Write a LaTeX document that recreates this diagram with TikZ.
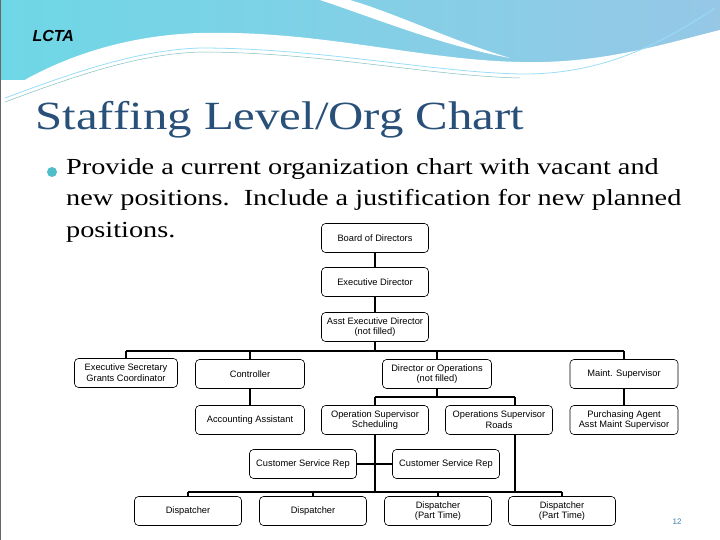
\documentclass[tikz,border=0pt]{standalone}
\usepackage{fontspec}
\setmainfont{Liberation Serif}
\setsansfont{Liberation Sans}
\definecolor{hdrA}{RGB}{110,215,230}
\definecolor{hdrB}{RGB}{150,200,230}
\definecolor{titlec}{RGB}{40,80,120}
\definecolor{bullc}{RGB}{80,190,200}
\definecolor{pgc}{RGB}{60,130,170}
\begin{document}
\begin{tikzpicture}[x=1pt,y=-1pt,
  box/.style={draw,semithick,rounded corners=4pt,minimum width=107pt,minimum height=29pt,align=center,font=\sffamily\fontsize{9.3}{10.8}\selectfont,inner sep=1pt,fill=white},
  link/.style={line width=1.8pt}]
\useasboundingbox (0,0) rectangle (720,540);
\fill[white] (0,0) rectangle (720,540);
% header
\shade[left color=hdrA,right color=hdrB] (0,0) rectangle (720,80);
\fill[white] (0,100) -- (0,95) .. controls (60,55) and (130,35) .. (200,33) .. controls (320,30) and (420,60) .. (520,62) .. controls (600,64) and (660,45) .. (720,30) -- (720,100) -- cycle;
\fill[white] (320,0) .. controls (380,20) and (440,45) .. (510,58) .. controls (450,40) and (400,15) .. (350,0) -- cycle;
\draw[white!60!cyan,line width=0.8pt] (5,98) .. controls (80,70) and (140,50) .. (200,48) .. controls (320,48) and (430,72) .. (520,74) .. controls (600,75) and (660,45) .. (715,8);
\draw[white!50!teal,line width=0.5pt] (5,102) .. controls (80,74) and (140,54) .. (200,52) .. controls (320,52) and (430,76) .. (520,78);
\draw[gray!80!black,line width=1pt] (0,0) rectangle (720,540);
\node[font=\sffamily\bfseries\itshape\fontsize{16}{17}\selectfont,anchor=west] (lcta) at (29,36) {LCTA};
\node[font=\fontsize{40}{44}\selectfont,text=titlec,anchor=west] (title) at (32,120) {\scalebox{1.22}[1]{Staffing Level/Org Chart}};
\fill[bullc] (52,172) circle (5pt);
\node[font=\fontsize{23}{31.5}\selectfont,anchor=north west,align=left,inner sep=0pt] (body) at (66,158) {\scalebox{1.23}[1]{Provide a current organization chart with vacant and}\\\scalebox{1.23}[1]{new positions.\ \ Include a justification for new planned}\\\scalebox{1.23}[1]{positions.}};
% chart
\node[box] (bod) at (375,238) {Board of Directors};
\node[box] (ed) at (375,282) {Executive Director};
\node[box] (aed) at (375,327) {Asst Executive Director\\(not filled)};
\node[box,minimum width=103pt] (es) at (126,373) {Executive Secretary\\Grants Coordinator};
\node[box,minimum width=109pt] (ctl) at (250,374) {Controller};
\node[box,minimum width=109pt] (dop) at (437,374) {Director or Operations\\(not filled)};
\node[box,minimum width=108pt] (ms) at (624,374) {Maint. Supervisor};
\node[box,minimum width=109pt] (acc) at (250,420) {Accounting Assistant};
\node[box] (osc) at (375,420) {Operation Supervisor\\Scheduling};
\node[box] (osr) at (499,420) {Operations Supervisor\\Roads};
\node[box,minimum width=108pt] (pa) at (624,420) {Purchasing Agent\\Asst Maint Supervisor};
\node[box] (csr1) at (303,464) {Customer Service Rep};
\node[box] (csr2) at (446,464) {Customer Service Rep};
\node[box] (d1) at (188,511) {Dispatcher};
\node[box] (d2) at (313,511) {Dispatcher};
\node[box] (d3) at (438,511) {Dispatcher\\(Part Time)};
\node[box] (d4) at (562,511) {Dispatcher\\(Part Time)};
\coordinate (b1) at (375,351);
\coordinate (b2) at (437,397);
\coordinate (b3) at (375,492);
\draw[link] (bod) -- (ed);
\draw[link] (ed) -- (aed);
\draw[link] (aed.south) -- (b1);
\draw[link] (es.north |- b1) -- (ms.north |- b1);
\foreach \n in {es,ctl,dop,ms} \draw[link] (\n.north |- b1) -- (\n.north);
\draw[link] (ctl) -- (acc);
\draw[link] (ms) -- (pa);
\draw[link] (dop.south) -- (b2);
\draw[link] (osc.north |- b2) -- ([xshift=16pt]osr.north |- b2);
\draw[link] (osc.north |- b2) -- (osc.north);
\draw[link] ([xshift=16pt]osr.north |- b2) -- ([xshift=16pt]osr.north);
\draw[link] (osc.south) -- (b3);
\draw[link] ([xshift=16pt]osr.south) -- ([xshift=16pt]osr.south |- b3);
\draw[link] (csr1.east) -- (csr2.west);
\draw[link] (d1.north |- b3) -- (d4.north |- b3);
\foreach \n in {d1,d2,d3,d4} \draw[link] (\n.north |- b3) -- (\n.north);
\node[font=\sffamily\fontsize{8}{9}\selectfont,text=pgc] (pg) at (677,522) {12};
\end{tikzpicture}
\end{document}
